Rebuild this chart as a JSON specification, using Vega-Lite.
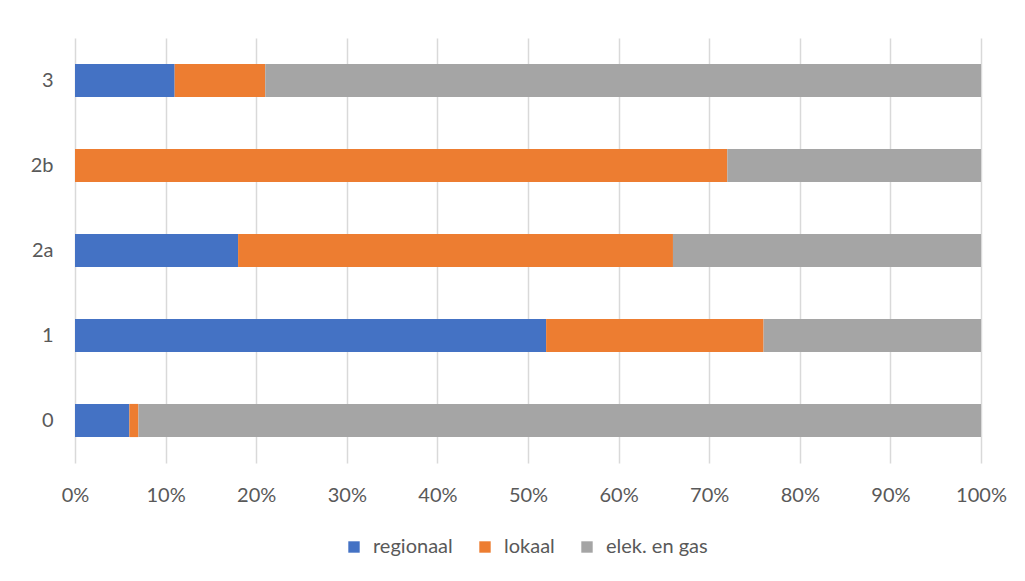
{
  "$schema": "https://vega.github.io/schema/vega-lite/v6.json",
  "width": 906,
  "height": 425,
  "autosize": {"type": "none"},
  "padding": {"left": 75, "top": 38, "right": 44, "bottom": 118},
  "background": "white",
  "data": {
    "values": [
      {"cat": "3", "serie": "regionaal", "ord": 1, "val": 11},
      {"cat": "3", "serie": "lokaal", "ord": 2, "val": 10},
      {"cat": "3", "serie": "elek. en gas", "ord": 3, "val": 79},
      {"cat": "2b", "serie": "regionaal", "ord": 1, "val": 0},
      {"cat": "2b", "serie": "lokaal", "ord": 2, "val": 72},
      {"cat": "2b", "serie": "elek. en gas", "ord": 3, "val": 28},
      {"cat": "2a", "serie": "regionaal", "ord": 1, "val": 18},
      {"cat": "2a", "serie": "lokaal", "ord": 2, "val": 48},
      {"cat": "2a", "serie": "elek. en gas", "ord": 3, "val": 34},
      {"cat": "1", "serie": "regionaal", "ord": 1, "val": 52},
      {"cat": "1", "serie": "lokaal", "ord": 2, "val": 24},
      {"cat": "1", "serie": "elek. en gas", "ord": 3, "val": 24},
      {"cat": "0", "serie": "regionaal", "ord": 1, "val": 6},
      {"cat": "0", "serie": "lokaal", "ord": 2, "val": 1},
      {"cat": "0", "serie": "elek. en gas", "ord": 3, "val": 93}
    ]
  },
  "mark": {"type": "bar"},
  "encoding": {
    "y": {
      "field": "cat",
      "type": "nominal",
      "sort": ["3", "2b", "2a", "1", "0"],
      "scale": {"paddingInner": 0.61, "paddingOuter": 0.305},
      "axis": {
        "title": null,
        "domain": false,
        "ticks": false,
        "labelPadding": 22,
        "labelFont": "Lato",
        "labelFontSize": 20,
        "labelColor": "#595959"
      }
    },
    "x": {
      "field": "val",
      "type": "quantitative",
      "stack": "normalize",
      "scale": {"domain": [0, 1], "nice": false},
      "axis": {
        "title": null,
        "format": ".0%",
        "values": [0, 0.1, 0.2, 0.3, 0.4, 0.5, 0.6, 0.7, 0.8, 0.9, 1],
        "domain": false,
        "ticks": false,
        "grid": true,
        "gridColor": "#D9D9D9",
        "gridWidth": 1.5,
        "labelPadding": 22,
        "labelFont": "Lato",
        "labelFontSize": 20,
        "labelColor": "#595959",
        "labelFlush": false
      }
    },
    "color": {
      "field": "serie",
      "type": "nominal",
      "sort": ["regionaal", "lokaal", "elek. en gas"],
      "scale": {
        "domain": ["regionaal", "lokaal", "elek. en gas"],
        "range": ["#4472C4", "#ED7D31", "#A5A5A5"]
      },
      "legend": {
        "title": null,
        "orient": "none",
        "legendX": 269,
        "legendY": 499,
        "direction": "horizontal",
        "symbolType": "square",
        "symbolSize": 130,
        "symbolStrokeWidth": 0,
        "labelFont": "Lato",
        "labelFontSize": 20,
        "labelColor": "#595959",
        "labelOffset": 9,
        "columnPadding": 22
      }
    },
    "order": {"field": "ord", "type": "quantitative"}
  },
  "config": {"view": {"stroke": null}}
}
